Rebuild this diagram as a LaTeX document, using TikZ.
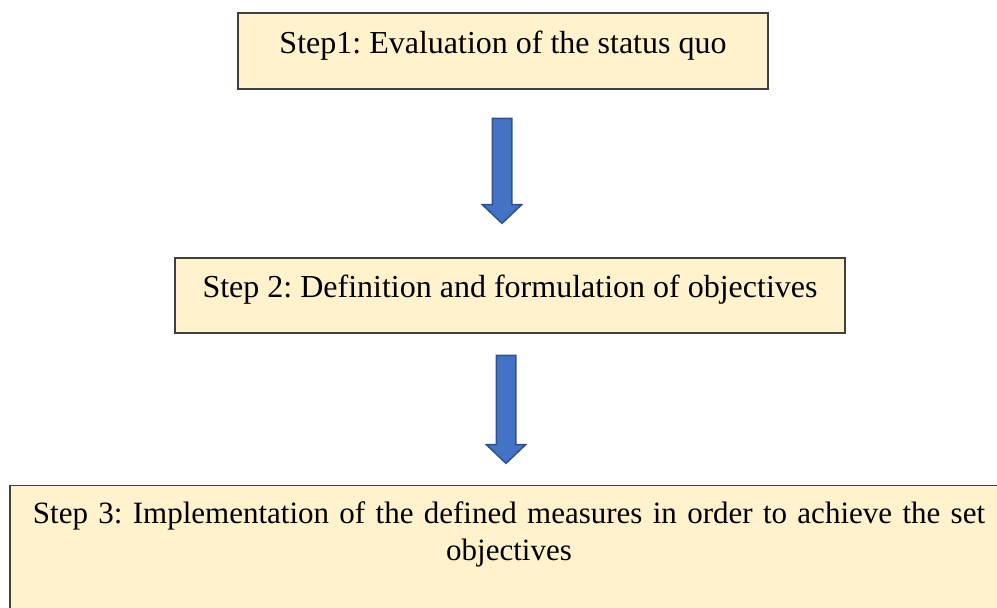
\documentclass[tikz,border=0pt]{standalone}
\usepackage{fontspec}
\setmainfont{Liberation Serif}
\usetikzlibrary{shapes.arrows,calc}
\definecolor{stepfill}{HTML}{FFF2CC}
\definecolor{arrfill}{HTML}{4472C4}
\definecolor{arrline}{HTML}{2F528F}

\begin{document}
\begin{tikzpicture}[
  x=1pt, y=-1pt,
  font=\fontsize{32}{38}\selectfont\frenchspacing,
  stepbox/.style={
    rectangle, draw=black!75, fill=stepfill,
    line width=1.2pt, inner sep=0pt, align=center
  },
  blockarr/.style={
    single arrow, draw=arrline, fill=arrfill, line width=1.5pt,
    inner sep=9pt, anchor=tail,
    single arrow head extend=10pt, single arrow head indent=0pt,
    single arrow tip angle=93, shape border rotate=270
  }
]
\clip (0,0) rectangle (997,608);

%% steps
\node[stepbox, minimum width=530pt, minimum height=76pt,
  text height=21pt, text depth=17pt] (s1) at (503,51)
  {Step1: Evaluation of the status quo};
\node[stepbox, minimum width=670pt, minimum height=75pt,
  text height=21pt, text depth=17pt] (s2) at (510,295.5)
  {Step 2: Definition and formulation of objectives};
\node[stepbox, anchor=north, minimum width=998pt, text width=985pt,
  inner ysep=12pt, font=\fontsize{31}{37}\selectfont\frenchspacing] (s3) at (509,485)
  {\strut Step 3: Implementation of the defined measures in order to achieve the set\\
   objectives\\ \strut};

%% arrows between steps
\node[blockarr, minimum height=105pt] (a1) at ([xshift=-1pt, yshift=-28pt]s1.south) {};
\node[blockarr, minimum height=108pt] (a2) at ([xshift=-4pt, yshift=-21pt]s2.south) {};

\end{tikzpicture}
\end{document}
